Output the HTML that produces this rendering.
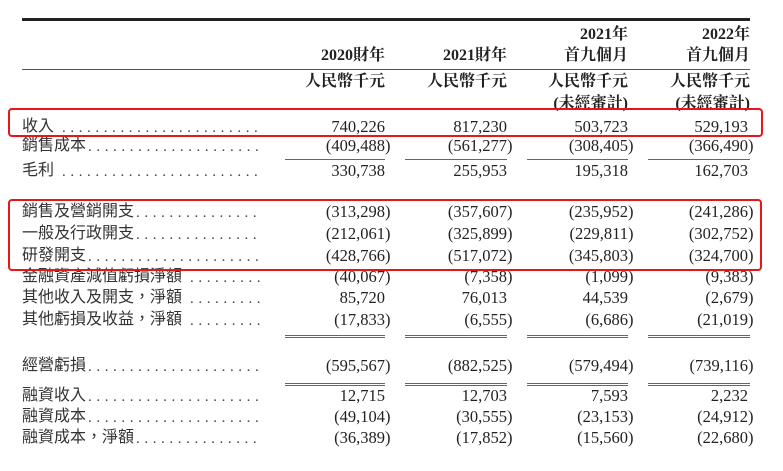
<!DOCTYPE html>
<html><head><meta charset="utf-8"><style>
body{margin:0;width:783px;height:471px;background:#fff;position:relative;overflow:hidden;color:#222}
.a{position:absolute}
.h{font-family:"Liberation Serif","Noto Serif CJK TC","Noto Serif CJK SC",serif;font-weight:bold;font-size:16px;line-height:21px;text-align:right;white-space:nowrap}
.l{font-family:"Liberation Sans","Noto Sans CJK TC",sans-serif;font-size:16px;line-height:20px;left:22px;white-space:nowrap;color:#333}
.d{position:absolute;top:1px;font-family:"Liberation Serif",serif;font-size:15px;letter-spacing:4.6px;color:#444}
.n{position:absolute;font-family:"Liberation Serif",serif;font-size:16.5px;line-height:20px;text-align:right;white-space:nowrap;color:#222}
.n i{font-style:normal;position:absolute;left:100%;top:0}
.ln{position:absolute;height:1px;background:#666}
.box{position:absolute;border:2px solid #e8161a;border-radius:4px}
</style></head><body>
<div class="a" style="left:22px;top:18px;width:728px;height:3px;background:#222"></div>
<div class="a" style="left:22px;top:69px;width:728px;height:1px;background:#555"></div>

<div class="a h" style="right:398px;top:45px">2020財年</div>
<div class="a h" style="right:276px;top:45px">2021財年</div>
<div class="a h" style="right:155px;top:24px">2021年<br>首九個月</div>
<div class="a h" style="right:33px;top:24px">2022年<br>首九個月</div>
<div class="a h" style="right:398px;top:71px;line-height:22px">人民幣千元</div>
<div class="a h" style="right:276px;top:71px;line-height:22px">人民幣千元</div>
<div class="a h" style="right:155px;top:71px;line-height:22px">人民幣千元<br>(未經審計)</div>
<div class="a h" style="right:33px;top:71px;line-height:22px">人民幣千元<br>(未經審計)</div>

<div id="rows"></div>

<div class="box" style="left:8px;top:108px;width:751px;height:25px"></div>
<div class="box" style="left:8px;top:199px;width:750px;height:68px"></div>

<script>
var rows=[
["收入",127,["740,226","817,230","503,723","529,193"],1],
["銷售成本",146,["(409,488)","(561,277)","(308,405)","(366,490)"],0],
["毛利",171,["330,738","255,953","195,318","162,703"],1],
["銷售及營銷開支",212,["(313,298)","(357,607)","(235,952)","(241,286)"],0],
["一般及行政開支",234,["(212,061)","(325,899)","(229,811)","(302,752)"],0],
["研發開支",256,["(428,766)","(517,072)","(345,803)","(324,700)"],0],
["金融資產減值虧損淨額",277,["(40,067)","(7,358)","(1,099)","(9,383)"],1],
["其他收入及開支，淨額",298,["85,720","76,013","44,539","(2,679)"],1],
["其他虧損及收益，淨額",320,["(17,833)","(6,555)","(6,686)","(21,019)"],1],
["經營虧損",366,["(595,567)","(882,525)","(579,494)","(739,116)"],0],
["融資收入",396,["12,715","12,703","7,593","2,232"],0],
["融資成本",417,["(49,104)","(30,555)","(23,153)","(24,912)"],0],
["融資成本，淨額",438,["(36,389)","(17,852)","(15,560)","(22,680)"],0]
];
var R=[385,507,628,748],h="";
rows.forEach(function(r){
 var t=r[1]-10;
 var st=r[0].length*16+(r[3]?8:2);
 h+='<div class="a l" style="top:'+t+'px">'+r[0]+'<span class="d" style="left:'+st+'px;width:'+(240-st)+'px;overflow:hidden">'+'.'.repeat(40)+'</span></div>';
 r[2].forEach(function(v,i){
  var s=v;if(v[v.length-1]==")")s=v.slice(0,-1)+'<i>)</i>';
  h+='<div class="n" style="right:'+(783-R[i])+'px;top:'+t+'px">'+s+'</div>';
 });
});
var L=[[285,385],[405,507],[527,628],[648,750]];
L.forEach(function(p){
 [159,335,337,383,385].forEach(function(y){
  h+='<div class="ln" style="left:'+p[0]+'px;width:'+(p[1]-p[0])+'px;top:'+y+'px"></div>';
 });
});
document.getElementById("rows").innerHTML=h;
</script>
</body></html>
